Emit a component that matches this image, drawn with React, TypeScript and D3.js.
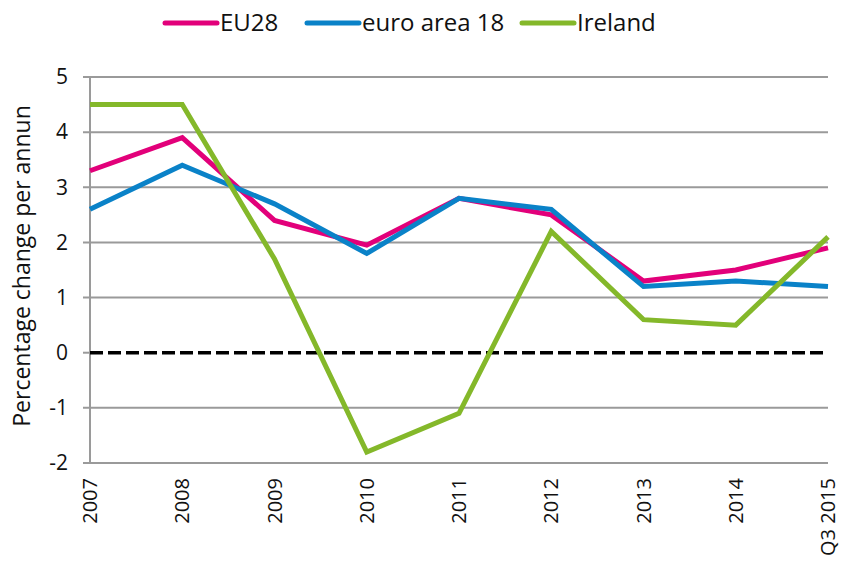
import { useEffect, useRef } from 'react';
import * as d3 from 'd3';

const categories = ['2007', '2008', '2009', '2010', '2011', '2012', '2013', '2014', 'Q3 2015'];
const eu28 = [3.3, 3.9, 2.4, 1.95, 2.8, 2.5, 1.3, 1.5, 1.9];
const euroArea18 = [2.6, 3.4, 2.7, 1.8, 2.8, 2.6, 1.2, 1.3, 1.2];
const ireland = [4.5, 4.5, 1.7, -1.8, -1.1, 2.2, 0.6, 0.5, 2.1];
const yTicks = [-2, -1, 0, 1, 2, 3, 4, 5];

const seriesList = [
    { name: 'EU28', values: eu28, color: '#e2007a' },
    { name: 'euro area 18', values: euroArea18, color: '#0a82c8' },
    { name: 'Ireland', values: ireland, color: '#84b82a' },
];

const FONT = '"Open Sans", "Noto Sans", sans-serif';

export default function App() {
    let ref = useRef<SVGSVGElement>(null);

    useEffect(() => {
        const svg = d3.select(ref.current);
        svg.selectAll('*').remove();

        const left = 90, right = 828, top = 77, bottom = 463;

        const x = d3.scalePoint<string>().domain(categories).range([left, right]);
        const y = d3.scaleLinear().domain([-2, 5]).range([bottom, top]);

        // gridlines
        const grid = svg.append('g');
        grid.selectAll('line')
            .data(yTicks.filter(t => t !== 0))
            .join('line')
            .attr('x1', left - 7)
            .attr('x2', right)
            .attr('y1', d => y(d))
            .attr('y2', d => y(d))
            .attr('stroke', '#9a9a9a')
            .attr('stroke-width', 2);
        // tick for zero
        grid.append('line')
            .attr('x1', left - 7).attr('x2', left)
            .attr('y1', y(0)).attr('y2', y(0))
            .attr('stroke', '#9a9a9a').attr('stroke-width', 2);

        // y axis line
        svg.append('line')
            .attr('x1', left).attr('x2', left)
            .attr('y1', top).attr('y2', bottom)
            .attr('stroke', '#9a9a9a').attr('stroke-width', 2);

        // y tick labels
        svg.append('g').selectAll('text')
            .data(yTicks)
            .join('text')
            .attr('x', left - 22)
            .attr('y', d => y(d))
            .attr('dy', '0.35em')
            .attr('text-anchor', 'end')
            .style('font-family', FONT)
            .style('font-size', '21px')
            .attr('fill', '#111')
            .text(d => d);

        // x tick labels
        svg.append('g').selectAll('text')
            .data(categories)
            .join('text')
            .attr('transform', d => `translate(${x(d)! + 7}, 478) rotate(-90)`)
            .attr('text-anchor', 'end')
            .style('font-family', FONT)
            .style('font-size', '20px')
            .attr('fill', '#111')
            .text(d => d);

        // y axis title
        svg.append('text')
            .attr('transform', `translate(30, 266) rotate(-90)`)
            .attr('text-anchor', 'middle')
            .style('font-family', FONT)
            .style('font-size', '23px')
            .attr('fill', '#111')
            .text('Percentage change per annun');

        // zero dashed line
        svg.append('line')
            .attr('x1', left).attr('x2', right)
            .attr('y1', y(0)).attr('y2', y(0))
            .attr('stroke', '#000')
            .attr('stroke-width', 3.5)
            .attr('stroke-dasharray', '13 5');

        // series lines
        const line = d3.line<number>()
            .x((d, i) => x(categories[i])!)
            .y(d => y(d));

        svg.append('g').selectAll('path')
            .data(seriesList)
            .join('path')
            .attr('d', d => line(d.values))
            .attr('fill', 'none')
            .attr('stroke', d => d.color)
            .attr('stroke-width', 5)
            .attr('stroke-linejoin', 'miter');

        // legend
        const legendX = [165, 307, 522];
        const legend = svg.append('g').selectAll('g')
            .data(seriesList)
            .join('g')
            .attr('transform', (d, i) => `translate(${legendX[i]}, 23)`);
        legend.append('line')
            .attr('x1', 0).attr('x2', 52)
            .attr('stroke', d => d.color)
            .attr('stroke-width', 5)
            .attr('stroke-linecap', 'round');
        legend.append('text')
            .attr('x', 55)
            .attr('dy', '0.35em')
            .style('font-family', FONT)
            .style('font-size', '24px')
            .attr('fill', '#111')
            .text(d => d.name);
    }, []);

    return <svg ref={ref} width={841} height={568} style={{ position: 'absolute', left: 0, top: 0 }}></svg>
}
